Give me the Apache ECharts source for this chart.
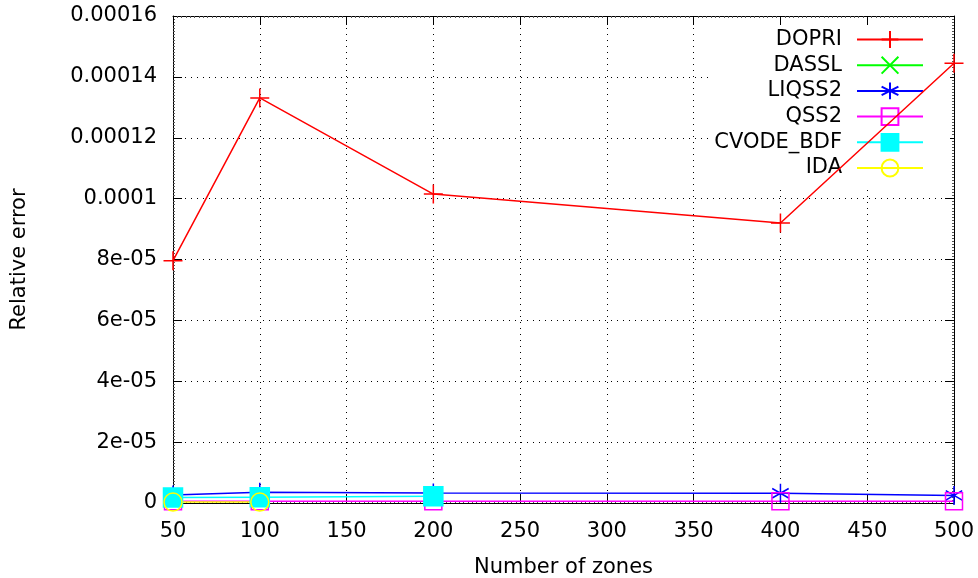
<!DOCTYPE html>
<html>
<head>
<meta charset="utf-8">
<title>Relative error vs number of zones</title>
<script src="https://cdn.jsdelivr.net/npm/echarts@6/dist/echarts.min.js"></script>
<style>
  html, body { margin: 0; padding: 0; background: #fff; }
  #chart { width: 978px; height: 578px; }
</style>
</head>
<body>
<div id="chart"></div>
<script>
// data
const zones = [50, 100, 200, 400, 500];
const dopri = [7.96e-5, 1.331e-4, 1.015e-4, 9.2e-5, 1.445e-4];
const dassl = [];
const liqss2 = [2.6e-6, 3.5e-6, 3.3e-6, 3.2e-6, 2.5e-6];
const qss2 = [6e-7, 6e-7, 6e-7, 6e-7, 6e-7];
const cvodeBdf = [1.8e-6, 1.9e-6, 2.2e-6];
const ida = [3e-7, 3e-7];

const xTicks = [50, 100, 150, 200, 250, 300, 350, 400, 450, 500];
const yTickLabels = ['0', '2e-05', '4e-05', '6e-05', '8e-05', '0.0001', '0.00012', '0.00014', '0.00016'];

const FONT = 'DejaVu Sans';

// gnuplot-like point types
const PLUS = 'path://M0,10L20,10M10,0L10,20';
const CROSS = 'path://M0,0L20,20M0,20L20,0';
const STAR = 'path://M10,0L10,20M1.34,5L18.66,15M1.34,15L18.66,5';
const BOX = 'path://M0,0L20,0L20,20L0,20Z';

function pairs(xs, ys) {
  return ys.map((y, i) => [xs[i], y]);
}

function lineSeries(name, color, ys, symbol, size, hollow) {
  return {
    name: name,
    type: 'line',
    data: pairs(zones, ys),
    symbol: symbol,
    symbolSize: size,
    symbolKeepAspect: true,
    showAllSymbol: true,
    lineStyle: { color: color, width: 1.5 },
    itemStyle: {
      color: hollow ? 'rgba(0,0,0,0)' : color,
      borderColor: color,
      borderWidth: 1.5
    },
    emphasis: { disabled: true },
    z: 2
  };
}

let myChart = echarts.init(document.getElementById('chart'));

const axisLine = { show: true, onZero: false, lineStyle: { color: '#000', width: 1 } };
const tick = { show: true, inside: true, length: 9, lineStyle: { color: '#000' } };
const minor = { show: true, splitNumber: 20, length: 2, lineStyle: { color: '#555' } };
const grid = { show: true, lineStyle: { color: '#000', type: [1, 5], width: 1 } };

let option = {
  animation: false,
  backgroundColor: '#fff',
  grid: {
    left: 173, right: 24, top: 16, bottom: 75,
    containLabel: false,
    outerBoundsMode: 'none'
  },
  legend: {
    orient: 'vertical',
    align: 'right',
    right: 28,
    top: 25,
    padding: [4, 26, 8, 5],
    backgroundColor: '#fff',
    z: 1,
    itemWidth: 66,
    itemHeight: 21,
    itemGap: 4.7,
    selectedMode: false,
    textStyle: {
      fontFamily: FONT,
      fontSize: 21,
      lineHeight: 21,
      color: '#000',
      padding: [0, 10, 0, 0]
    },
    data: ['DOPRI', 'DASSL', 'LIQSS2', 'QSS2', 'CVODE_BDF', 'IDA']
  },
  xAxis: [
    {
      type: 'value',
      min: 50,
      max: 500,
      interval: 50,
      name: 'Number of zones',
      nameLocation: 'middle',
      nameGap: 54,
      nameTextStyle: { fontFamily: FONT, fontSize: 21, color: '#000' },
      axisLine: axisLine,
      axisTick: tick,
      minorTick: minor,
      splitLine: grid,
      axisLabel: {
        fontFamily: FONT, fontSize: 21, color: '#000', margin: 18,
        formatter: v => String(xTicks[xTicks.indexOf(v)])
      }
    },
    {
      type: 'value', position: 'top', min: 50, max: 500, interval: 50,
      axisLine: axisLine, axisTick: tick, minorTick: minor,
      splitLine: { show: false }, axisLabel: { show: false }
    }
  ],
  yAxis: [
    {
      type: 'value',
      min: 0,
      max: 0.00016,
      interval: 0.00002,
      name: 'Relative error',
      nameLocation: 'middle',
      nameGap: 143,
      nameTextStyle: { fontFamily: FONT, fontSize: 21, color: '#000' },
      axisLine: axisLine,
      axisTick: tick,
      minorTick: minor,
      splitLine: grid,
      axisLabel: {
        fontFamily: FONT, fontSize: 21, color: '#000', margin: 16,
        formatter: v => yTickLabels[Math.round(v / 0.00002)]
      }
    },
    {
      type: 'value', position: 'right', min: 0, max: 0.00016, interval: 0.00002,
      axisLine: axisLine, axisTick: tick, minorTick: minor,
      splitLine: { show: false }, axisLabel: { show: false }
    }
  ],
  series: [
    lineSeries('DOPRI', '#ff0000', dopri, PLUS, 19, false),
    lineSeries('DASSL', '#00ff00', dassl, CROSS, 19, false),
    lineSeries('LIQSS2', '#0000ff', liqss2, STAR, 19, false),
    lineSeries('QSS2', '#ff00ff', qss2, BOX, 17, true),
    lineSeries('CVODE_BDF', '#00ffff', cvodeBdf, 'rect', 19, false),
    lineSeries('IDA', '#ffff00', ida, 'circle', 18, true)
  ]
};

myChart.setOption(option, true);

window.addEventListener('resize', () => {
  myChart.resize();
});
</script>
</body>
</html>
